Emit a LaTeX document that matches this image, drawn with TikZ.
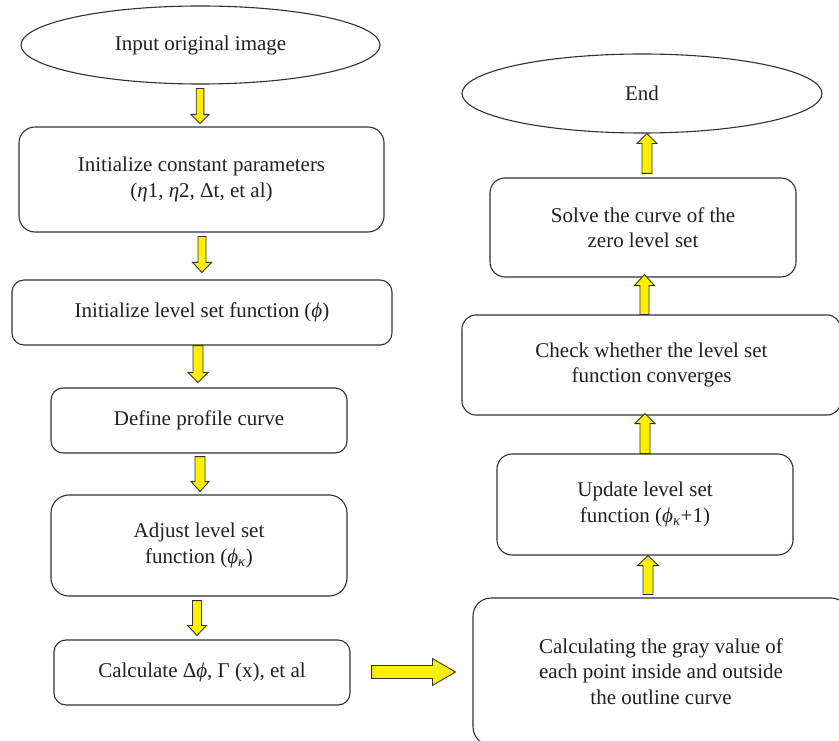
\documentclass[tikz,border=0pt]{standalone}
\usepackage{fontspec}
\setmainfont{Liberation Serif}
\usetikzlibrary{shapes.geometric,calc}
\definecolor{arrowyellow}{RGB}{255,240,0}
\definecolor{linegray}{RGB}{50,50,50}
\definecolor{txt}{RGB}{35,31,32}
\tikzset{
  box/.style={draw=linegray, line width=1.1pt, align=center, text=txt,
    font=\fontsize{21}{25.5}\selectfont, inner sep=0pt},
  oval/.style={draw=linegray, line width=1.1pt, ellipse, inner sep=0pt, text=txt,
    font=\fontsize{21}{25.5}\selectfont},
  barrow/.style={draw=linegray, fill=arrowyellow, line width=0.9pt, line join=miter},
}
% vertical block arrow: x, tail point, tip point, shaft half width, head half width, signed head length
\newcommand{\varr}[6]{%
  \draw[barrow] let \p3=(#1,0), \p1=(#2), \p2=(#3) in
   ({\x3-#4pt},{\y1}) -- ({\x3-#4pt},{\y2+(#6)*1pt}) -- ({\x3-#5pt},{\y2+(#6)*1pt}) -- ({\x3},{\y2})
   -- ({\x3+#5pt},{\y2+(#6)*1pt}) -- ({\x3+#4pt},{\y2+(#6)*1pt}) -- ({\x3+#4pt},{\y1}) -- cycle;}
% horizontal block arrow: y, tail point, tip point, shaft half width, head half width, head length
\newcommand{\harr}[6]{%
  \draw[barrow] let \p3=(0,#1), \p1=(#2), \p2=(#3) in
   ({\x1},{\y3-#4pt}) -- ({\x2-#6pt},{\y3-#4pt}) -- ({\x2-#6pt},{\y3-#5pt}) -- ({\x2},{\y3})
   -- ({\x2-#6pt},{\y3+#5pt}) -- ({\x2-#6pt},{\y3+#4pt}) -- ({\x1},{\y3+#4pt}) -- cycle;}
\begin{document}
\begin{tikzpicture}[x=1pt,y=-1pt]
\useasboundingbox (0,0) rectangle (839,741);
\clip (0,0) rectangle (839,741);
\fill[white] (0,0) rectangle (839,741);

% left column
\node[oval, minimum width=359pt, minimum height=78pt] (in) at (200.5,45) {Input original image};
\node[box, rounded corners=16pt, minimum width=365pt, minimum height=105pt] (b2) at (201.5,179.5)
  {Initialize constant parameters\\(\textit{η}1, \textit{η}2, Δt, et al)};
\node[box, rounded corners=12pt, minimum width=380pt, minimum height=65pt] (b3) at (202,312.5)
  {Initialize level set function (\textit{ϕ})};
\node[box, rounded corners=12pt, minimum width=296pt, minimum height=65pt] (b4) at (199,420.5)
  {Define profile curve};
\node[box, rounded corners=18pt, minimum width=296pt, minimum height=101pt] (b5) at (199,545.5)
  {Adjust level set\\function (\textit{ϕ}\textsubscript{\textit{κ}})};
\node[box, rounded corners=12pt, minimum width=296pt, minimum height=65pt] (b6) at (202,672.5)
  {Calculate Δ\textit{ϕ}, Γ (x), et al};

% right column
\node[box, rounded corners=18pt, minimum width=376pt, minimum height=147pt] (b7) at (661,671.5)
  {Calculating the gray value of\\each point inside and outside\\the outline curve};
\node[box, rounded corners=15pt, minimum width=296pt, minimum height=101pt] (b8) at (645,504.5)
  {Update level set\\function (\textit{ϕ}\textsubscript{\textit{κ}}+1)};
\node[box, rounded corners=14pt, minimum width=379pt, minimum height=100pt] (b9) at (651.5,365)
  {Check whether the level set\\function converges};
\node[box, rounded corners=15pt, minimum width=306pt, minimum height=99pt] (b10) at (643,227.5)
  {Solve the curve of the\\zero level set};
\node[oval, minimum width=360pt, minimum height=79pt] (end) at (642,93.5) {End};

% arrows
\varr{200}{$(in.south)+(0,4)$}{$(b2.north)+(0,-3)$}{3.8}{9}{9}
\varr{202}{$(b2.south)+(0,4)$}{$(b3.north)+(0,-7)$}{4}{9.5}{10}
\varr{198}{$(b3.south)+(0,0)$}{$(b4.north)+(0,-5)$}{5}{10}{10}
\varr{200}{$(b4.south)+(0,3)$}{$(b5.north)+(0,-3)$}{5}{9}{10}
\varr{197}{$(b5.south)+(0,4)$}{$(b6.north)+(0,-4)$}{4.5}{9.5}{10}
\harr{672}{$(b6.east)+(21,0)$}{$(b7.west)+(-17,0)$}{6.5}{13.5}{23}
\varr{648}{$(b7.north)+(0,-3)$}{$(b8.south)+(0,0)$}{5}{10.5}{-10}
\varr{645}{$(b8.north)+(0,0)$}{$(b9.south)+(0,-2)$}{5}{10}{-10}
\varr{644.5}{$(b9.north)+(0,0)$}{$(b10.south)+(0,-3)$}{4.5}{10}{-11}
\varr{647}{$(b10.north)+(0,-4)$}{$(end.south)+(0,0)$}{5}{10}{-10}
\end{tikzpicture}
\end{document}
